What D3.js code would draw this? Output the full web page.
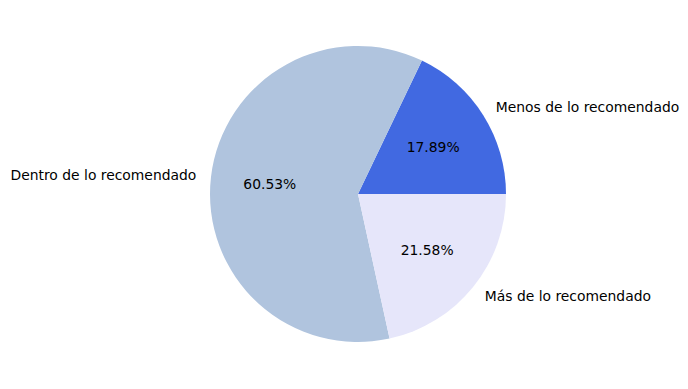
<!DOCTYPE html>
<html>
<head>
<meta charset="utf-8">
<script src="https://cdn.jsdelivr.net/npm/d3@7"></script>
<style>
  body { margin: 0; background: #fff; }
  svg text { font-family: "DejaVu Sans", sans-serif; font-size: 13.89px; fill: #000; }
</style>
</head>
<body>
<div id="chart"></div>
<script>
const categories = ["Menos de lo recomendado", "Dentro de lo recomendado", "Más de lo recomendado"];
const values = [17.89, 60.53, 21.58];
const colors = ["#4169E1", "#B0C4DE", "#E6E6FA"];

function PieChart() {
    const width = 688, height = 389;
    const cx = 358, cy = 194, radius = 148;

    const svg = d3.select("#chart").append("svg")
        .attr("width", width)
        .attr("height", height);

    // matplotlib style: start at 3 o'clock, go counterclockwise
    const pie = d3.pie()
        .sort(null)
        .value(d => d)
        .startAngle(Math.PI / 2)
        .endAngle(Math.PI / 2 - 2 * Math.PI);

    const arcs = pie(values);
    const arc = d3.arc().innerRadius(0).outerRadius(radius);

    const g = svg.append("g").attr("transform", `translate(${cx},${cy})`);

    g.selectAll("path")
        .data(arcs)
        .join("path")
        .attr("d", arc)
        .attr("fill", (d, i) => colors[i]);

    const pos = (d, r) => {
        const a = (d.startAngle + d.endAngle) / 2;
        return [r * Math.sin(a), -r * Math.cos(a)];
    };

    g.selectAll("text.label")
        .data(arcs)
        .join("text")
        .attr("class", "label")
        .attr("x", d => pos(d, radius * 1.1)[0])
        .attr("y", d => pos(d, radius * 1.1)[1])
        .attr("text-anchor", d => pos(d, 1)[0] > 0 ? "start" : "end")
        .attr("dominant-baseline", "central")
        .text((d, i) => categories[i]);

    g.selectAll("text.pct")
        .data(arcs)
        .join("text")
        .attr("class", "pct")
        .attr("x", d => pos(d, radius * 0.6)[0])
        .attr("y", d => pos(d, radius * 0.6)[1])
        .attr("text-anchor", "middle")
        .attr("dominant-baseline", "central")
        .text(d => d.data.toFixed(2) + "%");
}

PieChart();
</script>
</body>
</html>
